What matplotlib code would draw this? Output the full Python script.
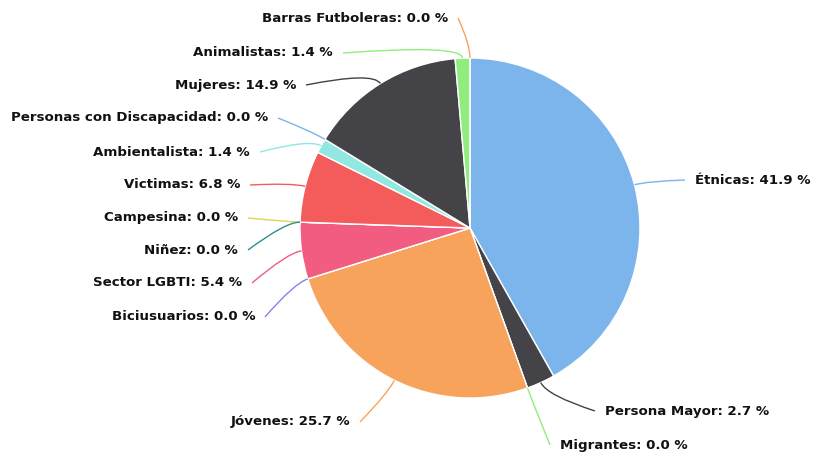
import matplotlib
matplotlib.use('Agg')
import matplotlib.pyplot as plt
import numpy as np
from matplotlib.path import Path
from matplotlib.patches import PathPatch

categories = ['Étnicas', 'Persona Mayor', 'Migrantes', 'Jóvenes', 'Biciusuarios',
              'Sector LGBTI', 'Campesina', 'Niñez', 'Victimas', 'Ambientalista',
              'Personas con Discapacidad', 'Mujeres', 'Animalistas', 'Barras Futboleras']
values = [41.9, 2.7, 0.0, 25.7, 0.0, 5.4, 0.0, 0.0, 6.8, 1.4, 0.0, 14.9, 1.4, 0.0]
colors = ['#7cb5ec', '#434348', '#90ed7d', '#f7a35c', '#8085e9', '#f15c80', '#e4d354',
          '#2b908f', '#f45b5b', '#91e8e1', '#7cb5ec', '#434348', '#90ed7d', '#f7a35c']

# label layout (pixel coords from top-left): anchor x of text, y, alignment
label_layout = [
    (695, 180, 'left'),   # Étnicas
    (605, 411, 'left'),   # Persona Mayor
    (560, 445, 'left'),   # Migrantes
    (350, 422, 'right'),  # Jóvenes
    (255, 317, 'right'),  # Biciusuarios
    (242, 283, 'right'),  # Sector LGBTI
    (238, 218, 'right'),  # Campesina
    (238, 250, 'right'),  # Niñez
    (240, 185, 'right'),  # Victimas
    (250, 152, 'right'),  # Ambientalista
    (268, 118, 'right'),  # Personas con Discapacidad
    (296, 85, 'right'),   # Mujeres
    (333, 53, 'right'),   # Animalistas
    (448, 18, 'right'),   # Barras Futboleras
]

W, H = 814, 455
fig = plt.figure(figsize=(W / 100, H / 100), dpi=100)
ax = fig.add_axes([0, 0, 1, 1])
cx, cy, R = 470, H - 228, 170
ax.pie(values, colors=colors, startangle=90, counterclock=False,
       center=(cx, cy), radius=R,
       wedgeprops=dict(edgecolor='white', linewidth=1.0))
ax.set_xlim(0, W)
ax.set_ylim(0, H)
ax.set_aspect('equal')
ax.axis('off')

total = sum(values)
cum = 0.0
for name, v, col, (lx, ly, ha) in zip(categories, values, colors, label_layout):
    mid = (cum + v / 2) / total * 2 * np.pi
    cum += v
    dx, dy = np.sin(mid), np.cos(mid)
    edge = (cx + R * dx, cy + R * dy)
    elbow = (cx + (R + 14) * dx, cy + (R + 14) * dy)
    yy = H - ly
    if ha == 'right':
        start = (lx + 10, yy)
    else:
        start = (lx - 10, yy)
    path = Path([start, elbow, edge], [Path.MOVETO, Path.CURVE3, Path.CURVE3])
    ax.add_patch(PathPatch(path, facecolor='none', edgecolor=col, lw=1.0, zorder=3))
    ax.text(lx, yy, f"{name}: {v:.1f} %", ha=ha, va='center',
            fontsize=9.6, fontweight='bold', color='#111111', family='DejaVu Sans')

fig.savefig('out.png', dpi=100, facecolor='white')
